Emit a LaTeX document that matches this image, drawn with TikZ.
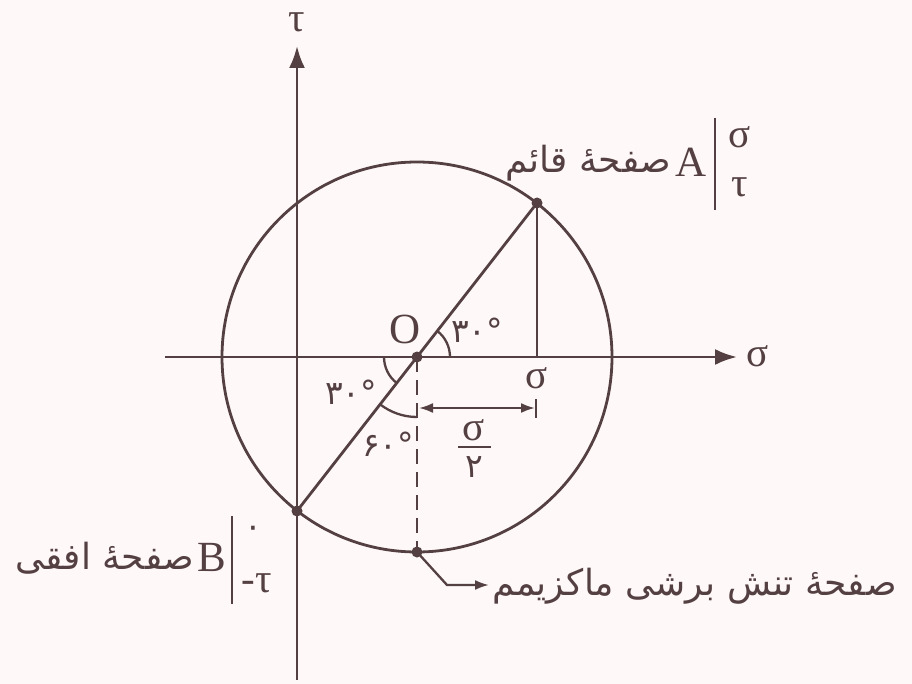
\documentclass[tikz,border=0pt]{standalone}
\usepackage{fontspec}
\setmainfont{Liberation Serif}
\newfontfamily\arabicfont[Script=Arabic]{DejaVu Sans}
\TeXXeTstate=1
\usetikzlibrary{arrows.meta}
\definecolor{ink}{RGB}{84,64,66}
\definecolor{bg}{RGB}{254,248,248}
\begin{document}
\begin{tikzpicture}[x=1pt,y=-1pt,
  line/.style={draw=ink,line width=2.8pt},
  thinline/.style={draw=ink,line width=2.3pt},
  bigtip/.style={-{Latex[length=22pt,width=16pt]}},
  dot/.style={fill=ink},
  lat/.style={text=ink,inner sep=0pt,font=\fontsize{43}{50}\selectfont},
  greek/.style={text=ink,inner sep=0pt,font=\fontsize{41}{48}\selectfont},
  ara/.style={text=ink,inner sep=0pt,font=\arabicfont\fontsize{36}{44}\selectfont},
  deg/.style={text=ink,inner sep=0pt,font=\arabicfont\fontsize{33}{38}\selectfont}]
\path[fill=bg] (0,0) rectangle (912,684);
% points
\coordinate (O) at (417,357);
\coordinate (A) at (537,203);
\coordinate (B) at (297,511);
\coordinate (M) at (417,552);
\coordinate (S) at (537,357);
\coordinate (tauB) at (297,680);
\coordinate (tauT) at (297,46);
\coordinate (sigL) at (165,357);
\coordinate (sigR) at (737,357);
% axes
\draw[line,bigtip] (tauB) -- (tauT);
\draw[line,bigtip] (sigL) -- (sigR);
\node[greek] (tau) at (297,22) {τ};
\node[greek] (sig) at (758,356) {σ};
% circle
\draw[line] (O) circle[radius=195];
\draw[line] (B) -- (A);
\draw[line] (A) -- (S);
\draw[thinline,dash pattern=on 15pt off 8pt] (O) -- (M);
% angle arcs
\draw[thinline] ([shift={(33,0)}]O) arc[start angle=0,end angle=-52,radius=33];
\draw[thinline] ([shift={(-33,0)}]O) arc[start angle=180,end angle=128,radius=33];
\draw[thinline] ([shift={(128:60)}]O) arc[start angle=128,end angle=90,radius=60];
% dots
\fill[dot] (O) circle[radius=5.5];
\fill[dot] (A) circle[radius=5.5];
\fill[dot] (B) circle[radius=5.5];
\fill[dot] (M) circle[radius=5.5];
% labels near O
\node[lat] (Olab) at (405,329) {O};
\node[deg] (a1) at (477,330) {۳۰°};
\node[deg] (a2) at (351,392) {۳۰°};
\node[deg] (a3) at (388,444) {۶۰°};
\node[greek] (sigS) at (537,378) {σ};
% dimension
\coordinate (d1) at (419,408);
\coordinate (d2) at (535,408);
\coordinate (t1) at (536,399);
\coordinate (t2) at (536,418);
\draw[thinline,{Latex[length=14pt,width=10pt]}-{Latex[length=14pt,width=10pt]}] (d1) -- (d2);
\draw[thinline] (t1) -- (t2);
\node[greek] (fn) at (474,430) {σ};
\coordinate (f1) at (458,447);
\coordinate (f2) at (491,447);
\draw[thinline] (f1) -- (f2);
\node[deg] (fd) at (474,467) {۲};
% A label
\node[ara,anchor=east] (Atext) at (671,163) {\beginR صفحهٔ قائم\endR};
\node[lat] (Alab) at (691,162) {A};
\coordinate (ab1) at (715,118);
\coordinate (ab2) at (715,210);
\draw[thinline] (ab1) -- (ab2);
\node[greek] (As) at (740,137) {σ};
\node[greek] (At) at (740,187) {τ};
% B label
\node[ara,anchor=east] (Btext) at (194,558) {\beginR صفحهٔ افقی\endR};
\node[lat] (Blab) at (212,557) {B};
\coordinate (bb1) at (232,516);
\coordinate (bb2) at (232,604);
\draw[thinline] (bb1) -- (bb2);
\node[deg] (Bz) at (253,532) {۰};
\node[greek] (Bt) at (257,583) {-τ};
% max shear leader
\coordinate (k1) at (447,585);
\coordinate (k2) at (489,585);
\draw[thinline,-{Latex[length=14pt,width=10pt]}] (M) -- (k1) -- (k2);
\node[ara,anchor=west] (Mtext) at (492,586) {\beginR صفحهٔ تنش برشی ماکزیمم\endR};
\end{tikzpicture}
\end{document}
